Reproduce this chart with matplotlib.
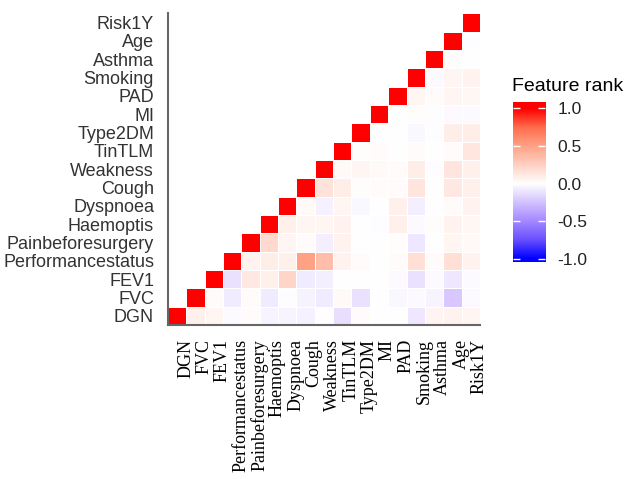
import matplotlib
matplotlib.use("Agg")
import matplotlib.pyplot as plt
import numpy as np
from matplotlib.colors import LinearSegmentedColormap

features = ["DGN", "FVC", "FEV1", "Performancestatus", "Painbeforesurgery",
            "Haemoptis", "Dyspnoea", "Cough", "Weakness", "TinTLM", "Type2DM",
            "MI", "PAD", "Smoking", "Asthma", "Age", "Risk1Y"]

# each row holds the values from its own diagonal cell to the right edge
r_dgn = [1, 0.08, 0.05, -0.02, 0.02, -0.04, -0.04, -0.06, 0.0, -0.13, 0.02, 0.0, 0.0, -0.1, 0.06, 0.07, 0.05]
r_fvc = [1, 0.02, -0.08, 0.02, -0.08, -0.01, -0.05, -0.08, 0.03, -0.12, 0.0, -0.03, -0.02, -0.04, -0.22, -0.02]
r_fev1 = [1, -0.12, 0.12, 0.08, 0.22, -0.08, -0.07, 0.0, 0.0, 0.0, -0.02, -0.12, -0.02, -0.1, -0.02]
r_perf = [1, 0.07, 0.1, 0.08, 0.5, 0.35, 0.07, 0.02, 0.0, 0.02, 0.17, 0.02, 0.17, 0.07]
r_pain = [1, 0.2, 0.05, 0.02, -0.07, 0.07, 0.0, 0.0, 0.01, -0.1, 0.0, 0.05, 0.03]
r_haem = [1, 0.08, 0.05, 0.05, 0.07, 0.0, -0.01, 0.08, -0.02, 0.01, 0.07, 0.04]
r_dysp = [1, 0.03, -0.06, 0.05, -0.03, 0.0, 0.08, -0.07, 0.0, 0.02, 0.07]
r_cough = [1, 0.15, 0.1, 0.01, 0.02, 0.02, 0.14, 0.0, 0.12, 0.08]
r_weak = [1, 0.03, 0.05, 0.03, 0.02, 0.1, -0.01, 0.14, 0.08]
r_tin = [1, 0.01, 0.02, 0.0, 0.02, 0.0, 0.02, 0.13]
r_t2dm = [1, 0.0, 0.0, -0.03, -0.01, 0.1, 0.1]
r_mi = [1, 0.0, 0.01, -0.01, -0.02, -0.02]
r_pad = [1, 0.05, 0.02, 0.05, 0.04]
r_smok = [1, -0.02, 0.05, 0.07]
r_asth = [1, 0.01, 0.0]
r_age = [1, -0.01]
r_risk = [1]

rows = [r_dgn, r_fvc, r_fev1, r_perf, r_pain, r_haem, r_dysp, r_cough, r_weak,
        r_tin, r_t2dm, r_mi, r_pad, r_smok, r_asth, r_age, r_risk]

n = len(features)
M = np.full((n, n), np.nan)
for i, r in enumerate(rows):
    M[i, i:] = r
M = np.ma.masked_invalid(M)

cmap = LinearSegmentedColormap.from_list("rank", [
    (0.0, "#0000FF"), (0.125, "#6A50FF"), (0.25, "#A488FF"), (0.375, "#D3C2FF"),
    (0.5, "#FFFFFF"), (0.625, "#FFD0C2"), (0.75, "#FFA286"), (0.875, "#FF6D4D"),
    (1.0, "#FF0000")])

fig = plt.figure(figsize=(6.29, 4.79), dpi=100)
ax = fig.add_axes([0.267, 0.3215, 0.496, 0.651])
ax.pcolormesh(np.arange(n + 1), np.arange(n + 1), M, cmap=cmap, vmin=-1, vmax=1,
              edgecolors="white", linewidth=0.5)
ax.set_xlim(0, n)
ax.set_ylim(0, n)

ax.set_xticks(np.arange(n) + 0.5)
ax.set_xticklabels(features, rotation=90, ha="left", va="top",
                   family="Liberation Serif", fontsize=13, color="black")
ax.set_yticks(np.arange(n) + 0.5)
ax.set_yticklabels(features, family="Liberation Sans", fontsize=13, color="#333333")
ax.tick_params(length=0, pad=10)
for s in ["top", "right"]:
    ax.spines[s].set_visible(False)
for s in ["left", "bottom"]:
    ax.spines[s].set_color("#666666")
    ax.spines[s].set_linewidth(1.5)

# colour bar
cax = fig.add_axes([0.8156, 0.453, 0.0509, 0.334])
grad = np.linspace(-1.04, 1.08, 200).reshape(-1, 1)
cax.imshow(grad, cmap=cmap, vmin=-1, vmax=1, aspect="auto", origin="lower",
           extent=[0, 1, -1.04, 1.08])
cax.set_xlim(0, 1)
cax.set_ylim(-1.04, 1.08)
cax.set_xticks([])
cax.set_yticks([-1.0, -0.5, 0.0, 0.5, 1.0])
cax.set_yticklabels(["-1.0", "-0.5", "0.0", "0.5", "1.0"],
                    family="Liberation Sans", fontsize=12.5, color="#222222")
cax.yaxis.tick_right()
cax.tick_params(axis="y", left=True, right=True, direction="in", length=5,
                width=1, color="white", pad=9)
for s in cax.spines.values():
    s.set_visible(False)
cax.set_title("Feature rank", family="Liberation Sans", fontsize=14,
              loc="left", pad=8, x=-0.03)

fig.savefig("out.png", dpi=100)
